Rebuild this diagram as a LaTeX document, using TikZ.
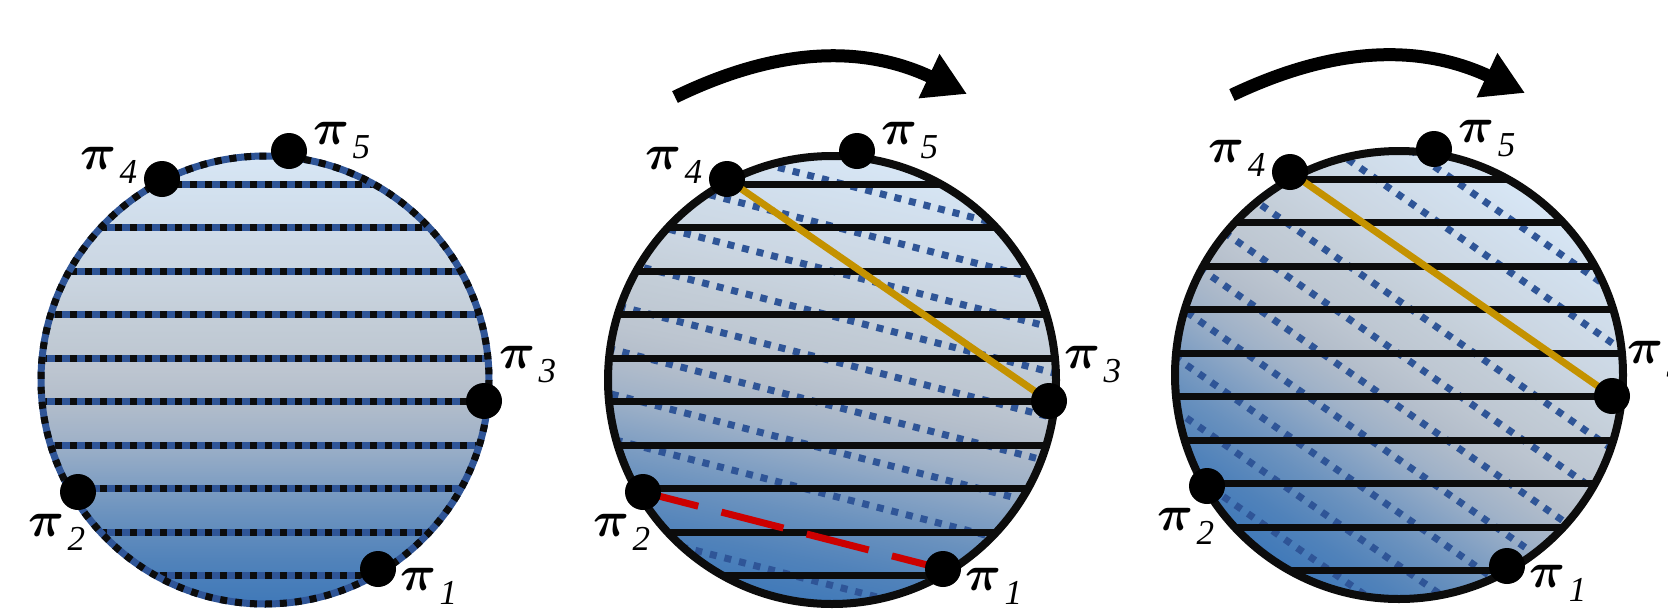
\documentclass[tikz,border=0pt]{standalone}
\usepackage{graphicx}
\usepackage{fontspec}
\setmainfont{Liberation Serif}
\usetikzlibrary{arrows.meta,calc}
\definecolor{patblue}{RGB}{47,85,151}
\definecolor{goldc}{RGB}{196,146,0}
\definecolor{redc}{RGB}{204,0,0}
\definecolor{inkc}{RGB}{12,12,12}
\definecolor{g25}{RGB}{62,120,185}
\definecolor{g30}{RGB}{80,130,186}
\definecolor{g35}{RGB}{105,145,190}
\definecolor{g39}{RGB}{130,160,195}
\definecolor{g43}{RGB}{160,178,200}
\definecolor{g48}{RGB}{180,190,203}
\definecolor{g51}{RGB}{188,197,208}
\definecolor{g56}{RGB}{195,205,215}
\definecolor{g62}{RGB}{203,214,226}
\definecolor{g70}{RGB}{210,224,238}
\definecolor{g75}{RGB}{216,231,246}
\pgfdeclareverticalshading{discgrad}{100bp}{color(0bp)=(g25); color(25bp)=(g25); color(30bp)=(g30); color(35bp)=(g35); color(39bp)=(g39); color(43.5bp)=(g43); color(48bp)=(g48); color(51bp)=(g51); color(56.5bp)=(g56); color(62bp)=(g62); color(70bp)=(g70); color(75bp)=(g75); color(100bp)=(g75)}
\newcommand\pilab[1]{\scalebox{5.0}{\boldmath$\pi$}\hspace{3pt}\raisebox{-14pt}{\fontsize{35}{35}\selectfont\itshape #1}}
\tikzset{
  hline/.style={draw=inkc, line width=7pt},
  dotline/.style={draw=patblue, line width=7pt, dash pattern=on 7pt off 8pt},
  mixbase/.style={draw=patblue, line width=7pt},
  mixdash/.style={draw=inkc, line width=7pt, dash pattern=on 7pt off 8pt},
  rim/.style={draw=inkc, line width=8pt},
  ptdot/.style={circle, fill=black, minimum size=36pt, inner sep=0pt},
  lab/.style={inner sep=0pt, text=black},
  bigarrow/.style={draw=black, line width=13pt, -{Triangle[length=42pt,width=46pt]}},
  goldline/.style={draw=goldc, line width=7pt},
  redline/.style={draw=redc, line width=7pt, dash pattern=on 64pt off 24pt, dash phase=7pt},
  fillshade/.style={shading=discgrad}
}
\begin{document}
\begin{tikzpicture}[x=1pt,y=-1pt]
\useasboundingbox (0,0) rectangle (1668,611);
\clip (0,0) rectangle (1668,611);

% ---------- centres and points ----------
\coordinate (C1) at (265,380);
\coordinate (C2) at (832,380);
\coordinate (C3) at (1399,375);
\coordinate (a1p1) at (378,569);  \coordinate (a1p2) at (78,492);
\coordinate (a1p3) at (484,401);  \coordinate (a1p4) at (162,179);
\coordinate (a1p5) at (289,151);
\coordinate (a2p1) at (943,569);  \coordinate (a2p2) at (643,492);
\coordinate (a2p3) at (1049,401); \coordinate (a2p4) at (727,179);
\coordinate (a2p5) at (857,151);
\coordinate (a3p1) at (1507,566); \coordinate (a3p2) at (1207,486);
\coordinate (a3p3) at (1612,396); \coordinate (a3p4) at (1290,172);
\coordinate (a3p5) at (1434,149);

% ---------- circle 1 ----------
\begin{scope}
  \clip (C1) circle (224);
  \shade[fillshade] (C1) circle (228);
  \begin{scope}[shift={(265,380)}]
    \foreach \d in {-195.75,-152.25,-108.75,-65.25,-21.75,21.75,65.25,108.75,152.25,195.75}{
      \draw[mixbase] (-240,\d) -- (240,\d);
      \draw[mixdash] (-240,\d) -- (240,\d);
    }
  \end{scope}
\end{scope}
\draw[mixbase] (C1) circle (224);
\draw[mixdash] (C1) circle (224);

% ---------- circle 2 ----------
\begin{scope}
  \clip (C2) circle (224);
  \begin{scope}[transform canvas={rotate around={-12:(832,380)}}]
    \shade[fillshade] (C2) circle (228);
  \end{scope}
  \begin{scope}[shift={(832,380)}, rotate=-14.4]
    \foreach \d in {-192.5,-149,-105.5,-62,-18.5,25,68.5,112,199}{
      \draw[dotline] (-240,\d) -- (240,\d);
    }
  \end{scope}
  \begin{scope}[shift={(832,380)}]
    \foreach \d in {-195.75,-152.25,-108.75,-65.25,-21.75,21.75,65.25,108.75,152.25,195.75}{
      \draw[hline] (-240,\d) -- (240,\d);
    }
  \end{scope}
  \draw[goldline] (a2p4) -- (a2p3);
  \draw[redline] (a2p2) -- (a2p1);
\end{scope}
\draw[rim] (C2) circle (224);

% ---------- circle 3 ----------
\begin{scope}
  \clip (C3) circle (224);
  \begin{scope}[transform canvas={rotate around={-35:(1399,375)}}]
    \shade[fillshade] (C3) circle (228);
  \end{scope}
  \begin{scope}[shift={(1399,375)}, rotate=-34.8]
    \foreach \d in {-191.4,-147.9,-60.9,-17.4,26.1,69.6,113.1,156.6,200.1}{
      \draw[dotline] (-240,\d) -- (240,\d);
    }
  \end{scope}
  \begin{scope}[shift={(1399,375)}]
    \foreach \d in {-195.75,-152.25,-108.75,-65.25,-21.75,21.75,65.25,108.75,152.25,195.75}{
      \draw[hline] (-240,\d) -- (240,\d);
    }
  \end{scope}
  \draw[goldline] (a3p4) -- (a3p3);
\end{scope}
\draw[rim] (C3) circle (224);

% ---------- points and labels ----------
\foreach \c in {1,2,3}{
  \node[ptdot] (d\c p1) at (a\c p1) {};
  \node[ptdot] (d\c p2) at (a\c p2) {};
  \node[ptdot] (d\c p3) at (a\c p3) {};
  \node[ptdot] (d\c p4) at (a\c p4) {};
  \node[ptdot] (d\c p5) at (a\c p5) {};
  \node[lab] (l\c p1) at ($(a\c p1)+(51,17)$) {\pilab{1}};
  \node[lab] (l\c p2) at ($(a\c p2)+(-21,40)$) {\pilab{2}};
  \node[lab] (l\c p3) at ($(a\c p3)+(44,-36)$) {\pilab{3}};
  \node[lab] (l\c p4) at ($(a\c p4)+(-53,-14)$) {\pilab{4}};
  \node[lab] (l\c p5) at ($(a\c p5)+(53,-10)$) {\pilab{5}};
}

% ---------- rotation arrows ----------
\coordinate (r2s) at (675,97);  \coordinate (r2e) at (967,94);
\coordinate (r3s) at (1232,95); \coordinate (r3e) at (1525,93);
\draw[bigarrow] (r2s) .. controls (778,47) and (863,45) .. (r2e);
\draw[bigarrow] (r3s) .. controls (1335,46) and (1420,44) .. (r3e);
\end{tikzpicture}
\end{document}
